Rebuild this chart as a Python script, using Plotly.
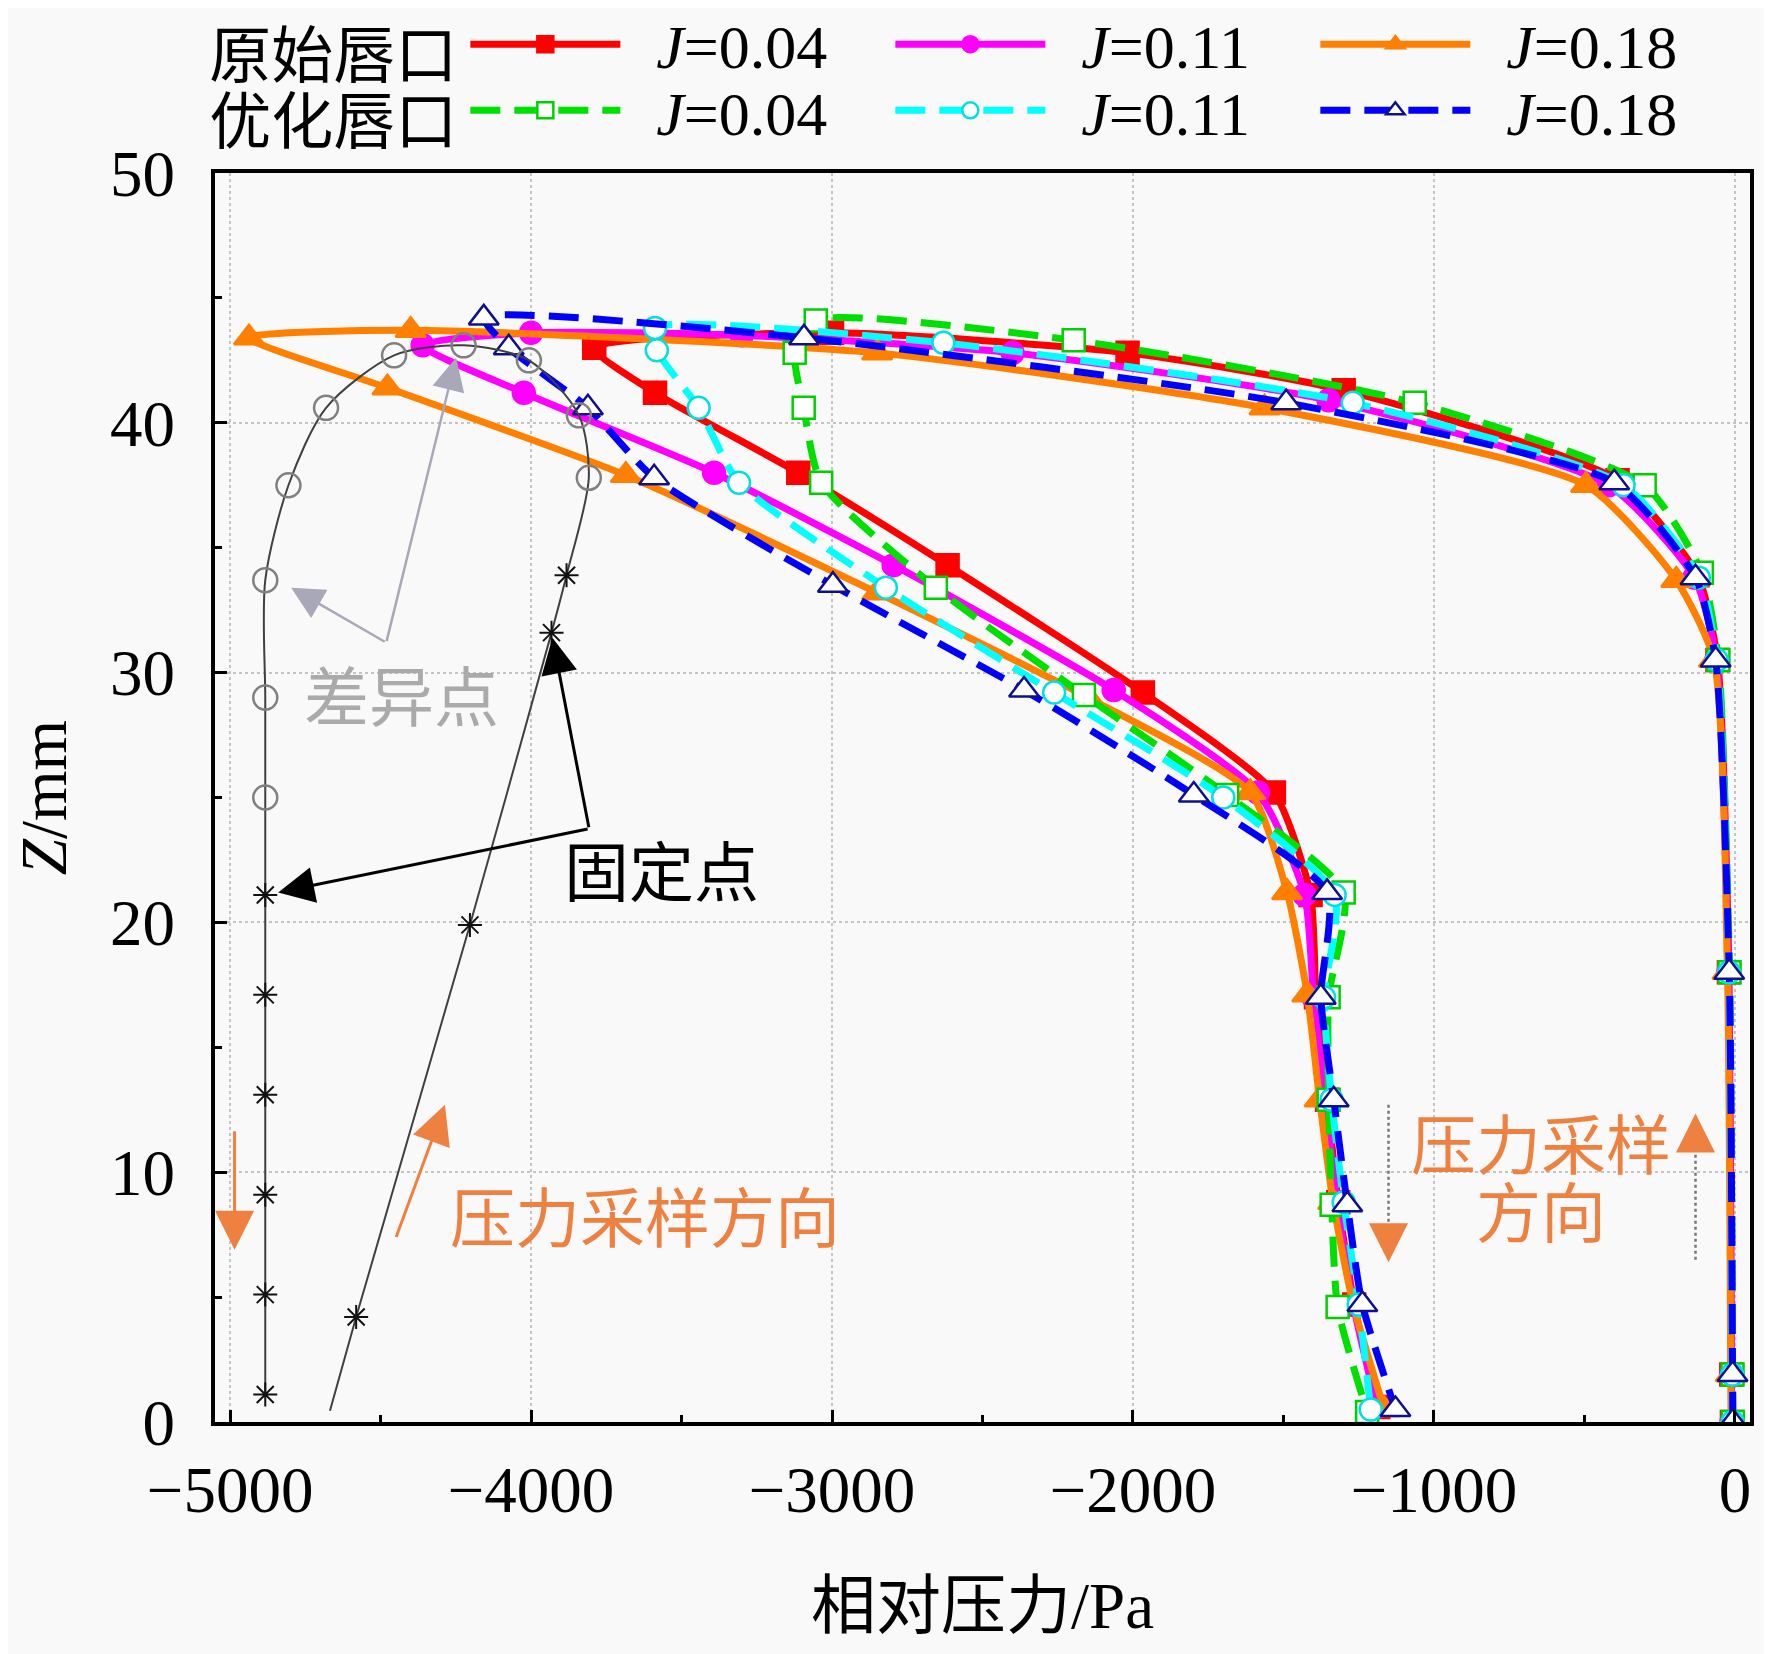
import plotly.graph_objects as go

# ---- data (relative pressure in Pa, Z in mm) ----
# 原始唇口 (original lip)
orig_004_x = [-10, -12, -20, -58, -125, -390, -1300, -2018, -3000, -3790, -3588, -3112, -2616, -1967, -1532, -1410, -1392, -1355, -1318, -1265, -1185]
orig_004_z = [0.0, 1.9, 18.0, 30.5, 33.9, 37.7, 41.3, 42.8, 43.6, 43.0, 41.2, 38.0, 34.3, 29.2, 25.2, 21.1, 17.0, 12.9, 8.8, 4.7, 0.6]

orig_011_x = [-11, -12, -22, -62, -135, -420, -1350, -2400, -3300, -4000, -4360, -4024, -3392, -2795, -2064, -1585, -1430, -1400, -1362, -1322, -1268, -1190]
orig_011_z = [0.0, 1.9, 18.0, 30.5, 33.8, 37.5, 40.9, 42.8, 43.5, 43.6, 43.1, 41.2, 38.0, 34.3, 29.3, 25.2, 21.1, 17.0, 12.9, 8.8, 4.7, 0.6]

orig_018_x = [-13, -14, -25, -70, -195, -495, -1563, -2850, -4400, -4937, -4477, -3685, -2850, -2150, -1610, -1488, -1421, -1380, -1335, -1268, -1165]
orig_018_z = [0.0, 1.9, 18.0, 30.5, 33.7, 37.5, 40.6, 42.8, 43.7, 43.4, 41.4, 37.9, 33.2, 29.0, 25.2, 21.2, 17.1, 12.9, 8.8, 4.7, 0.5]

# 优化唇口 (optimized lip)
opt_004_x = [-7, -8, -18, -55, -110, -300, -1064, -2197, -3054, -3124, -3094, -3036, -2655, -2163, -1687, -1300, -1350, -1350, -1340, -1320, -1222]
opt_004_z = [0.0, 1.9, 18.0, 30.5, 34.0, 37.5, 40.8, 43.3, 44.1, 42.8, 40.6, 37.6, 33.4, 29.1, 25.1, 21.2, 17.0, 12.9, 8.7, 4.6, 0.4]

opt_011_x = [-8, -9, -20, -60, -120, -370, -1270, -2630, -3588, -3582, -3443, -3309, -2821, -2262, -1700, -1330, -1365, -1340, -1300, -1250, -1210]
opt_011_z = [0.0, 1.9, 18.0, 30.5, 33.8, 37.5, 40.8, 43.2, 43.8, 42.9, 40.6, 37.6, 33.4, 29.2, 25.0, 21.1, 17.0, 12.9, 8.8, 4.7, 0.5]

opt_018_x = [-7, -8, -19, -64, -131, -401, -1491, -3093, -4157, -4074, -3811, -3591, -2997, -2362, -1798, -1355, -1376, -1333, -1288, -1238, -1128]
opt_018_z = [0.0, 1.9, 18.0, 30.5, 33.8, 37.6, 40.8, 43.4, 44.2, 43.0, 40.6, 37.8, 33.5, 29.3, 25.1, 21.2, 17.0, 12.9, 8.7, 4.7, 0.5]

# lip profile sketch: points along the outline, 'o' = 差异点, '*' = 固定点
lip_x = [-4883, -4883, -4883, -4883, -4883, -4883, -4883, -4883, -4883, -4806, -4681, -4455, -4224,
         -4007, -3841, -3808, -3882, -3932, -4203, -4581]
lip_z = [1.1, 5.1, 9.1, 13.1, 17.1, 21.1, 25.0, 29.0, 33.7, 37.5, 40.6, 42.7, 43.1,
         42.5, 40.3, 37.8, 33.9, 31.6, 19.9, 4.2]
lip_kind = ['*', '*', '*', '*', '*', '*', 'o', 'o', 'o', 'o', 'o', 'o', 'o',
            'o', 'o', 'o', '*', '*', '*', '*']
lip_end = (-4668, 0.45)

SERIF = "Liberation Serif, Noto Sans CJK SC"
FS = 65
LFS = 62
GAP = "\u00a0\u00a0"

fig = go.Figure()

curves = [
    (orig_004_x, orig_004_z, "0.04", "#FF0000", "solid", "square", "#FF0000", "#FF0000", "legend"),
    (orig_011_x, orig_011_z, "0.11", "#FF00FF", "solid", "circle", "#FF00FF", "#FF00FF", "legend"),
    (orig_018_x, orig_018_z, "0.18", "#FF8000", "solid", "triangle-up", "#FF8000", "#FF8000", "legend"),
    (opt_004_x, opt_004_z, "0.04", "#00E000", "30px,14px", "square", "white", "#00D000", "legend2"),
    (opt_011_x, opt_011_z, "0.11", "#00FFFF", "30px,14px", "circle", "white", "#00E0E0", "legend2"),
    (opt_018_x, opt_018_z, "0.18", "#0000FF", "30px,14px", "triangle-up", "white", "#10108C", "legend2"),
]

for xs, zs, j, color, dash, symbol, fill, edge, leg in curves:
    size = 26 if symbol == "triangle-up" else 22
    fig.add_trace(go.Scatter(
        x=xs, y=zs, name=GAP + "<i>J</i>=" + j, mode="lines+markers", legend=leg,
        line=dict(color=color, width=7, dash=dash, shape="spline", smoothing=0.6),
        marker=dict(symbol=symbol, size=size, color=fill, line=dict(color=edge, width=2.5)),
    ))

# lip outline sketch
fig.add_trace(go.Scatter(
    x=lip_x + [lip_end[0]], y=lip_z + [lip_end[1]], mode="lines", showlegend=False,
    line=dict(color="#404040", width=2, shape="spline", smoothing=0.8),
))
fig.add_trace(go.Scatter(
    x=[x for x, k in zip(lip_x, lip_kind) if k == 'o'],
    y=[z for z, k in zip(lip_z, lip_kind) if k == 'o'],
    mode="markers", showlegend=False,
    marker=dict(symbol="circle-open", size=24, color="#808080", line=dict(width=2.5)),
))
fig.add_trace(go.Scatter(
    x=[x for x, k in zip(lip_x, lip_kind) if k == '*'],
    y=[z for z, k in zip(lip_z, lip_kind) if k == '*'],
    mode="markers", showlegend=False,
    marker=dict(symbol="asterisk-open", size=20, color="#111111", line=dict(width=2)),
))

ORANGE = "#EE8040"


def arrow(x, y, ax, ay, color, width=3, size=2.2):
    fig.add_annotation(x=x, y=y, ax=ax, ay=ay, xref="x", yref="y", axref="x", ayref="y",
                       text="", showarrow=True, arrowhead=2, arrowsize=size,
                       arrowwidth=width, arrowcolor=color, standoff=0)


def label(x, y, text, color):
    fig.add_annotation(x=x, y=y, xref="x", yref="y", text=text, showarrow=False,
                       font=dict(family=SERIF, size=FS, color=color))


# 差异点
arrow(-4797, 33.4, -4481, 31.2, "#a8a8b8", 2.5, 2.6)
arrow(-4249, 42.6, -4481, 31.2, "#a8a8b8", 2.5, 2.6)
label(-4432, 28.95, "差异点", "#aaaaaa")

# 固定点
arrow(-3929, 31.4, -3807, 23.75, "black", 3, 2.4)
arrow(-4840, 21.2, -3807, 23.75, "black", 3, 2.4)
label(-3565, 21.95, "固定点", "black")

# sampling direction, left
arrow(-4985, 6.9, -4985, 11.7, ORANGE, 3, 2.6)
arrow(-4286, 12.7, -4450, 7.35, ORANGE, 3, 2.6)
label(-3622, 8.1, "压力采样方向", ORANGE)

# sampling direction, right (dotted shafts)
fig.add_shape(type="line", xref="x", yref="y", x0=-1151, y0=12.7, x1=-1151, y1=7.6,
              line=dict(color="#777777", width=2.5, dash="dot"))
arrow(-1151, 6.4, -1151, 7.8, ORANGE, 3, 2.6)
fig.add_shape(type="line", xref="x", yref="y", x0=-131, y0=6.5, x1=-131, y1=11.1,
              line=dict(color="#777777", width=2.5, dash="dot"))
arrow(-131, 12.35, -131, 10.9, ORANGE, 3, 2.6)
label(-645, 11.0, "压力采样", ORANGE)
label(-645, 8.3, "方向", ORANGE)

axis_common = dict(
    showline=True, linecolor="black", linewidth=4, mirror=True,
    ticks="inside", ticklen=12, tickwidth=3, tickcolor="black",
    showgrid=True, gridcolor="#c4c4c4", gridwidth=2, griddash="dot",
    zeroline=False,
    tickfont=dict(family=SERIF, size=FS, color="black"),
)

fig.update_xaxes(
    range=[-5050, 50], dtick=1000, tick0=0,
    minor=dict(dtick=500, ticks="inside", ticklen=7, tickwidth=3, tickcolor="black", showgrid=False),
    title=dict(text="相对压力/Pa", font=dict(family=SERIF, size=FS, color="black"), standoff=58),
    ticklabelstandoff=8,
    **axis_common,
)
fig.update_yaxes(
    range=[0, 50], dtick=10, tick0=0,
    minor=dict(dtick=5, ticks="inside", ticklen=7, tickwidth=3, tickcolor="black", showgrid=False),
    title=dict(text="<i>Z</i>/mm", font=dict(family=SERIF, size=FS, color="black"), standoff=30),
    ticklabelstandoff=23,
    **axis_common,
)

legend_common = dict(
    orientation="h", xanchor="left", yanchor="middle", x=-0.005,
    itemwidth=150, entrywidth=260, bgcolor="rgba(0,0,0,0)", borderwidth=0,
    font=dict(family=SERIF, size=LFS, color="black"),
)
# the page body adds an 8 px offset, so the figure is 8 px smaller each way
fig.update_layout(
    width=1764, height=1646,
    margin=dict(l=207, r=22, t=165, b=232, autoexpand=False),
    paper_bgcolor="#f9f9f9", plot_bgcolor="#f9f9f9",
    legend=dict(y=1.103, title=dict(text="原始唇口", side="left",
                                    font=dict(family=SERIF, size=LFS, color="black")),
                **legend_common),
    legend2=dict(y=1.050, title=dict(text="优化唇口", side="left",
                                     font=dict(family=SERIF, size=LFS, color="black")),
                 **legend_common),
)

fig.write_html("out.html")
